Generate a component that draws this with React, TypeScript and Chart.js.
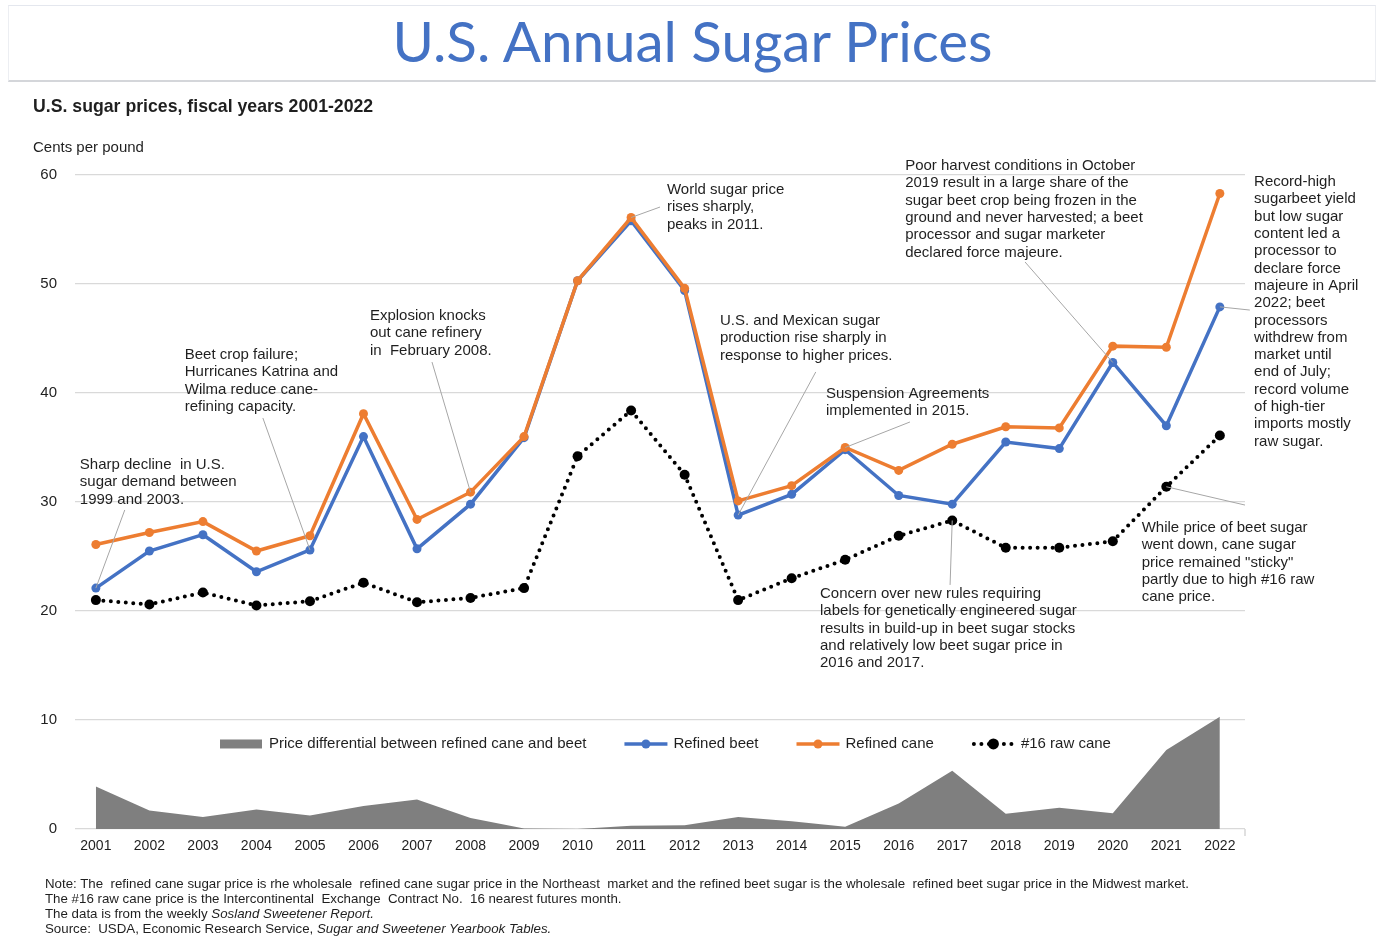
import React, { useEffect, useRef } from "react";
import { Chart, registerables } from "chart.js";

Chart.register(...registerables);

// ---------- data ----------
const years = [2001, 2002, 2003, 2004, 2005, 2006, 2007, 2008, 2009, 2010, 2011, 2012, 2013, 2014, 2015, 2016, 2017, 2018, 2019, 2020, 2021, 2022];
const refinedBeet = [22.1, 25.5, 27.0, 23.6, 25.6, 36.0, 25.7, 29.8, 35.9, 50.3, 55.8, 49.4, 28.8, 30.7, 34.8, 30.6, 29.8, 35.5, 34.9, 42.8, 37.0, 47.9];
const refinedCane = [26.1, 27.2, 28.2, 25.5, 26.9, 38.1, 28.4, 30.9, 36.0, 50.3, 56.1, 49.6, 30.1, 31.5, 35.0, 32.9, 35.3, 36.9, 36.8, 44.3, 44.2, 58.3];
const rawCane16 = [21.0, 20.6, 21.7, 20.5, 20.9, 22.6, 20.8, 21.2, 22.1, 34.2, 38.4, 32.5, 21.0, 23.0, 24.7, 26.9, 28.3, 25.8, 25.8, 26.4, 31.4, 36.1];
const priceDifferential = [3.9, 1.7, 1.1, 1.8, 1.25, 2.1, 2.7, 1.0, 0.05, 0.0, 0.3, 0.35, 1.1, 0.7, 0.2, 2.35, 5.35, 1.4, 1.95, 1.45, 7.25, 10.3];
const yTicks = [0, 10, 20, 30, 40, 50, 60];
const legendLabels = [
  "Price differential between refined cane and beet",
  "Refined beet",
  "Refined cane",
  "#16 raw cane",
];

const seriesByKey: Record<string, number[]> = {
  beet: refinedBeet,
  cane: refinedCane,
  raw: rawCane16,
};

// annotation callouts (text anchor and leader start in data coordinates, target = data point)
const annotations = [
  { lines: ["Sharp decline  in U.S.", "sugar demand between", "1999 and 2003."], tx: 2000.70, ty: 33.39, fx: 2001.54, fy: 29.27, series: "beet", year: 2001 },
  { lines: ["Beet crop failure;", "Hurricanes Katrina and", "Wilma reduce cane-", "refining capacity."], tx: 2002.66, ty: 43.49, fx: 2004.12, fy: 37.71, series: "beet", year: 2005 },
  { lines: ["Explosion knocks", "out cane refinery", "in  February 2008."], tx: 2006.12, ty: 47.06, fx: 2007.28, fy: 42.84, series: "cane", year: 2008 },
  { lines: ["World sugar price", "rises sharply,", "peaks in 2011."], tx: 2011.67, ty: 58.62, fx: 2011.54, fy: 57.06, series: "cane", year: 2011 },
  { lines: ["U.S. and Mexican sugar", "production rise sharply in", "response to higher prices."], tx: 2012.66, ty: 46.61, fx: 2014.45, fy: 41.93, series: "beet", year: 2013 },
  { lines: ["Suspension Agreements", "implemented in 2015."], tx: 2014.64, ty: 39.91, fx: 2016.21, fy: 37.34, series: "cane", year: 2015 },
  { lines: ["Poor harvest conditions in October", "2019 result in a large share of the", "sugar beet crop being frozen in the", "ground and never harvested; a beet", "processor and sugar marketer", "declared force majeure."], tx: 2016.12, ty: 60.83, fx: 2018.36, fy: 52.02, series: "beet", year: 2020 },
  { lines: ["Record-high", "sugarbeet yield", "but low sugar", "content led a", "processor to", "declare force", "majeure in April", "2022; beet", "processors", "withdrew from", "market until", "end of July;", "record volume", "of high-tier", "imports mostly", "raw sugar."], tx: 2022.64, ty: 59.36, fx: 2022.56, fy: 47.61, series: "beet", year: 2022 },
  { lines: ["Concern over new rules requiring", "labels for genetically engineered sugar", "results in build-up in beet sugar stocks", "and relatively low beet sugar price in", "2016 and 2017."], tx: 2014.53, ty: 21.56, fx: 2016.96, fy: 22.39, series: "raw", year: 2017 },
  { lines: ["While price of beet sugar", "went down, cane sugar", "price remained \"sticky\"", "partly due to high #16 raw", "cane price."], tx: 2020.54, ty: 27.61, fx: 2022.47, fy: 29.72, series: "raw", year: 2021 },
];

// ---------- styles ----------
const BLUE = "#4472C4";
const ORANGE = "#ED7D31";
const GRAY = "#7F7F7F";
const TEXT = "#1f1f1f";
const FONT_FAMILY = '"Liberation Sans", Arial, sans-serif';
const LINE_H = 17.3;

const overlayPlugin = {
  id: "overlay",
  afterDatasetsDraw(chart: any) {
    const { ctx, chartArea, scales } = chart;
    const xs = scales.x;
    const ys = scales.y;
    ctx.save();

    // small tick at right end of the category axis
    ctx.strokeStyle = "#d0d0d0";
    ctx.lineWidth = 1.3;
    ctx.beginPath();
    ctx.moveTo(chartArea.right, chartArea.bottom);
    ctx.lineTo(chartArea.right, chartArea.bottom + 7);
    ctx.stroke();

    // callouts
    ctx.font = `15px ${FONT_FAMILY}`;
    ctx.textBaseline = "middle";
    ctx.textAlign = "left";
    for (const a of annotations) {
      const series = seriesByKey[a.series];
      const tv = series[years.indexOf(a.year)];
      ctx.strokeStyle = "#a6a6a6";
      ctx.lineWidth = 1;
      ctx.setLineDash([]);
      ctx.beginPath();
      ctx.moveTo(xs.getPixelForValue(a.fx), ys.getPixelForValue(a.fy));
      ctx.lineTo(xs.getPixelForValue(a.year), ys.getPixelForValue(tv));
      ctx.stroke();
      const px = xs.getPixelForValue(a.tx);
      const py = ys.getPixelForValue(a.ty);
      ctx.fillStyle = TEXT;
      a.lines.forEach((l, i) => ctx.fillText(l, px, py + i * LINE_H));
    }

    // legend
    const ly = ys.getPixelForValue(7.8);
    let lx = chartArea.left + 145;
    const symW = 43;
    const gapText = 6;
    const gapItem = 38;
    legendLabels.forEach((label, i) => {
      ctx.setLineDash([]);
      if (i === 0) {
        ctx.fillStyle = "#808080";
        ctx.fillRect(lx, ly - 4.5, 42, 9);
      } else if (i === 1 || i === 2) {
        const c = i === 1 ? BLUE : ORANGE;
        ctx.strokeStyle = c;
        ctx.lineWidth = 3.5;
        ctx.beginPath();
        ctx.moveTo(lx, ly);
        ctx.lineTo(lx + symW, ly);
        ctx.stroke();
        ctx.fillStyle = c;
        ctx.beginPath();
        ctx.arc(lx + symW / 2, ly, 4.5, 0, Math.PI * 2);
        ctx.fill();
      } else {
        ctx.strokeStyle = "#000";
        ctx.lineWidth = 4;
        ctx.lineCap = "round";
        ctx.setLineDash([0, 7.5]);
        ctx.beginPath();
        ctx.moveTo(lx + 2, ly);
        ctx.lineTo(lx + symW, ly);
        ctx.stroke();
        ctx.setLineDash([]);
        ctx.fillStyle = "#000";
        ctx.beginPath();
        ctx.arc(lx + symW / 2, ly, 5.5, 0, Math.PI * 2);
        ctx.fill();
      }
      ctx.fillStyle = TEXT;
      ctx.font = `15px ${FONT_FAMILY}`;
      ctx.textBaseline = "middle";
      const tx = lx + symW + gapText;
      ctx.fillText(label, tx, ly);
      lx = tx + ctx.measureText(label).width + gapItem;
    });

    ctx.restore();
  },
};

export default function App() {
  const canvasRef = useRef<HTMLCanvasElement | null>(null);

  useEffect(() => {
    if (!canvasRef.current) return;
    const toPts = (arr: number[]) => arr.map((v, i) => ({ x: years[i], y: v }));
    const chart = new Chart(canvasRef.current, {
      type: "line",
      data: {
        datasets: [
          {
            label: legendLabels[2],
            data: toPts(refinedCane),
            borderColor: ORANGE,
            backgroundColor: ORANGE,
            borderWidth: 3.5,
            pointRadius: 4.5,
            pointBorderWidth: 0,
            pointBackgroundColor: ORANGE,
            tension: 0,
            order: 0,
          },
          {
            label: legendLabels[1],
            data: toPts(refinedBeet),
            borderColor: BLUE,
            backgroundColor: BLUE,
            borderWidth: 3.5,
            pointRadius: 4.5,
            pointBorderWidth: 0,
            pointBackgroundColor: BLUE,
            tension: 0,
            order: 1,
          },
          {
            label: legendLabels[3],
            data: toPts(rawCane16),
            borderColor: "#000",
            backgroundColor: "#000",
            borderWidth: 4,
            borderDash: [0, 7.5],
            borderCapStyle: "round",
            pointRadius: 5,
            pointBorderWidth: 0,
            pointBackgroundColor: "#000",
            tension: 0,
            order: 2,
          },
          {
            label: legendLabels[0],
            data: toPts(priceDifferential),
            borderWidth: 0,
            borderColor: GRAY,
            backgroundColor: GRAY,
            fill: "origin",
            pointRadius: 0,
            tension: 0,
            order: 3,
          },
        ],
      } as any,
      options: {
        responsive: false,
        animation: false,
        layout: { padding: { left: 0, top: 175, right: 140, bottom: 0 } },
        plugins: {
          legend: { display: false },
          tooltip: { enabled: false },
          title: { display: false },
        },
        scales: {
          x: {
            type: "linear",
            min: 2000.61,
            max: 2022.47,
            afterBuildTicks: (scale: any) => {
              scale.ticks = years.map((v) => ({ value: v }));
            },
            afterFit: (scale: any) => {
              scale.height = 108;
            },
            ticks: {
              autoSkip: false,
              maxRotation: 0,
              padding: 9,
              color: TEXT,
              font: { family: FONT_FAMILY, size: 14 },
              callback: (v: any) => String(v),
            },
            grid: { display: false, drawTicks: false },
            border: { display: false },
          },
          y: {
            min: 0,
            max: 60,
            afterBuildTicks: (scale: any) => {
              scale.ticks = yTicks.map((v) => ({ value: v }));
            },
            afterFit: (scale: any) => {
              scale.width = 75;
            },
            ticks: {
              padding: 18,
              color: TEXT,
              font: { family: FONT_FAMILY, size: 15 },
            },
            grid: { color: "#d9d9d9", lineWidth: 1.3, drawTicks: false },
            border: { display: false },
          },
        },
      } as any,
      plugins: [overlayPlugin],
    });
    return () => chart.destroy();
  }, []);

  const noteStyle: React.CSSProperties = {
    position: "absolute",
    left: 45,
    top: 876,
    fontFamily: FONT_FAMILY,
    fontSize: 13.3,
    lineHeight: "15px",
    color: TEXT,
    whiteSpace: "pre",
  };

  return (
    <div style={{ position: "absolute", left: 0, top: 0, width: 1385, height: 937, background: "#fff", overflow: "hidden" }}>
      <div
        style={{
          position: "absolute",
          left: 8,
          top: 5,
          width: 1368,
          height: 77,
          borderTop: "1px solid #e4e7ee",
          borderLeft: "1px solid #eceef2",
          borderRight: "1px solid #eceef2",
          borderBottom: "2px solid #d4d6da",
          boxSizing: "border-box",
        }}
      />
      <div
        style={{
          position: "absolute",
          left: 0,
          top: 12,
          width: 1385,
          textAlign: "center",
          fontFamily: "Lato, 'Open Sans', sans-serif",
          fontSize: 56.5,
          lineHeight: "56px",
          color: BLUE,
        }}
      >
        U.S. Annual Sugar Prices
      </div>
      <canvas ref={canvasRef} width={1385} height={937} style={{ position: "absolute", left: 0, top: 0 }} />
      <div
        style={{
          position: "absolute",
          left: 33,
          top: 95,
          fontFamily: FONT_FAMILY,
          fontWeight: "bold",
          fontSize: 17.7,
          lineHeight: "22px",
          color: TEXT,
        }}
      >
        U.S. sugar prices, fiscal years 2001-2022
      </div>
      <div
        style={{
          position: "absolute",
          left: 33,
          top: 138,
          fontFamily: FONT_FAMILY,
          fontSize: 15,
          lineHeight: "18px",
          color: TEXT,
        }}
      >
        Cents per pound
      </div>
      <div style={noteStyle}>
        {"Note: The  refined cane sugar price is rhe wholesale  refined cane sugar price in the Northeast  market and the refined beet sugar is the wholesale  refined beet sugar price in the Midwest market.\n"}
        {"The #16 raw cane price is the Intercontinental  Exchange  Contract No.  16 nearest futures month.\n"}
        {"The data is from the weekly "}
        <i>Sosland Sweetener Report.</i>
        {"\nSource:  USDA, Economic Research Service, "}
        <i>Sugar and Sweetener Yearbook Tables.</i>
      </div>
    </div>
  );
}
